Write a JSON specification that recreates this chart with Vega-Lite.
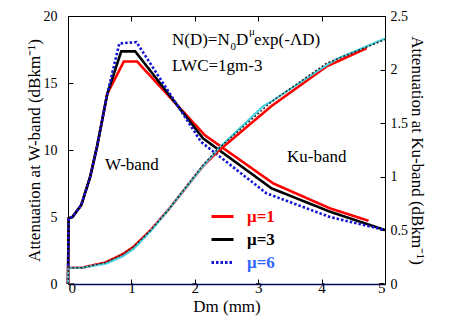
{
  "$schema": "https://vega.github.io/schema/vega-lite/v6.json",
  "width": 317,
  "height": 268,
  "autosize": {"type": "none"},
  "padding": {"left": 68, "top": 16, "right": 64, "bottom": 37},
  "config": {
    "font": "Liberation Serif",
    "view": {"stroke": "black", "strokeWidth": 1},
    "axis": {
      "grid": false,
      "domainColor": "black",
      "tickColor": "black",
      "tickSize": -5,
      "labelFont": "Liberation Serif",
      "labelFontSize": 14,
      "labelColor": "black",
      "titleFont": "Liberation Serif",
      "titleFontSize": 17,
      "titleFontWeight": "normal",
      "titleColor": "black"
    }
  },
  "datasets": {
    "w": [
      {"mu": "μ=1", "Dm": 0, "att": 0},
      {"mu": "μ=1", "Dm": 0.01, "att": 4.9},
      {"mu": "μ=1", "Dm": 0.07, "att": 5.0},
      {"mu": "μ=1", "Dm": 0.21, "att": 5.9},
      {"mu": "μ=1", "Dm": 0.35, "att": 8.0},
      {"mu": "μ=1", "Dm": 0.46, "att": 10.3},
      {"mu": "μ=1", "Dm": 0.62, "att": 14.2},
      {"mu": "μ=1", "Dm": 0.88, "att": 16.6},
      {"mu": "μ=1", "Dm": 1.09, "att": 16.6},
      {"mu": "μ=1", "Dm": 2.16, "att": 11.1},
      {"mu": "μ=1", "Dm": 3.24, "att": 7.5},
      {"mu": "μ=1", "Dm": 4.13, "att": 5.65},
      {"mu": "μ=1", "Dm": 4.74, "att": 4.72},
      {"mu": "μ=3", "Dm": 0, "att": 0},
      {"mu": "μ=3", "Dm": 0.01, "att": 4.9},
      {"mu": "μ=3", "Dm": 0.07, "att": 5.0},
      {"mu": "μ=3", "Dm": 0.21, "att": 5.9},
      {"mu": "μ=3", "Dm": 0.35, "att": 8.0},
      {"mu": "μ=3", "Dm": 0.46, "att": 10.3},
      {"mu": "μ=3", "Dm": 0.62, "att": 14.2},
      {"mu": "μ=3", "Dm": 0.84, "att": 17.36},
      {"mu": "μ=3", "Dm": 1.06, "att": 17.36},
      {"mu": "μ=3", "Dm": 2.13, "att": 10.87},
      {"mu": "μ=3", "Dm": 3.21, "att": 7.14},
      {"mu": "μ=3", "Dm": 4.13, "att": 5.4},
      {"mu": "μ=3", "Dm": 5.0, "att": 4.03},
      {"mu": "μ=6", "Dm": 0, "att": 0},
      {"mu": "μ=6", "Dm": 0.01, "att": 4.9},
      {"mu": "μ=6", "Dm": 0.07, "att": 5.0},
      {"mu": "μ=6", "Dm": 0.21, "att": 5.9},
      {"mu": "μ=6", "Dm": 0.35, "att": 8.0},
      {"mu": "μ=6", "Dm": 0.46, "att": 10.3},
      {"mu": "μ=6", "Dm": 0.62, "att": 14.2},
      {"mu": "μ=6", "Dm": 0.81, "att": 17.95},
      {"mu": "μ=6", "Dm": 1.08, "att": 18.05},
      {"mu": "μ=6", "Dm": 2.1, "att": 10.6},
      {"mu": "μ=6", "Dm": 3.13, "att": 6.77},
      {"mu": "μ=6", "Dm": 4.13, "att": 5.0},
      {"mu": "μ=6", "Dm": 5.0, "att": 4.03}
    ],
    "ku": [
      {"mu": "μ=1", "Dm": 0, "att": 0},
      {"mu": "μ=1", "Dm": 0.01, "att": 0.152},
      {"mu": "μ=1", "Dm": 0.22, "att": 0.152},
      {"mu": "μ=1", "Dm": 0.59, "att": 0.2},
      {"mu": "μ=1", "Dm": 0.87, "att": 0.28},
      {"mu": "μ=1", "Dm": 1.04, "att": 0.35},
      {"mu": "μ=1", "Dm": 1.3, "att": 0.5},
      {"mu": "μ=1", "Dm": 1.58, "att": 0.69},
      {"mu": "μ=1", "Dm": 2.13, "att": 1.1},
      {"mu": "μ=1", "Dm": 2.35, "att": 1.23},
      {"mu": "μ=1", "Dm": 3.21, "att": 1.66},
      {"mu": "μ=1", "Dm": 4.08, "att": 2.03},
      {"mu": "μ=1", "Dm": 4.71, "att": 2.2},
      {"mu": "μ=6", "Dm": 0, "att": 0},
      {"mu": "μ=6", "Dm": 0.01, "att": 0.152},
      {"mu": "μ=6", "Dm": 0.22, "att": 0.152},
      {"mu": "μ=6", "Dm": 0.6, "att": 0.19},
      {"mu": "μ=6", "Dm": 0.87, "att": 0.26},
      {"mu": "μ=6", "Dm": 1.04, "att": 0.33},
      {"mu": "μ=6", "Dm": 1.3, "att": 0.49},
      {"mu": "μ=6", "Dm": 1.58, "att": 0.69},
      {"mu": "μ=6", "Dm": 2.13, "att": 1.1},
      {"mu": "μ=6", "Dm": 2.4, "att": 1.28},
      {"mu": "μ=6", "Dm": 3.08, "att": 1.66},
      {"mu": "μ=6", "Dm": 3.2, "att": 1.7},
      {"mu": "μ=6", "Dm": 3.97, "att": 2.0},
      {"mu": "μ=6", "Dm": 4.24, "att": 2.1},
      {"mu": "μ=6", "Dm": 5.0, "att": 2.29},
      {"mu": "μ=3", "Dm": 0, "att": 0},
      {"mu": "μ=3", "Dm": 0.01, "att": 0.152},
      {"mu": "μ=3", "Dm": 0.22, "att": 0.152},
      {"mu": "μ=3", "Dm": 0.59, "att": 0.2},
      {"mu": "μ=3", "Dm": 0.87, "att": 0.28},
      {"mu": "μ=3", "Dm": 1.04, "att": 0.35},
      {"mu": "μ=3", "Dm": 1.3, "att": 0.5},
      {"mu": "μ=3", "Dm": 1.58, "att": 0.69},
      {"mu": "μ=3", "Dm": 2.13, "att": 1.11},
      {"mu": "μ=3", "Dm": 2.35, "att": 1.25},
      {"mu": "μ=3", "Dm": 3.21, "att": 1.7},
      {"mu": "μ=3", "Dm": 4.08, "att": 2.06},
      {"mu": "μ=3", "Dm": 5.0, "att": 2.28}
    ],
    "notes": [
      {"label": "N(D)=N", "Dm": 1.64, "att": 17.87},
      {"label": "D", "Dm": 2.65, "att": 17.87},
      {"label": "exp(-ΛD)", "Dm": 2.934, "att": 17.87},
      {"label": "LWC=1gm-3", "Dm": 1.64, "att": 15.86},
      {"label": "W-band", "Dm": 0.584, "att": 8.51},
      {"label": "Ku-band", "Dm": 3.454, "att": 9.1}
    ],
    "scripts": [
      {"label": "0", "Dm": 2.563, "att": 17.46},
      {"label": "μ", "Dm": 2.855, "att": 18.58}
    ]
  },
  "resolve": {
    "scale": {"y": "independent", "color": "independent", "strokeDash": "independent", "strokeWidth": "independent"},
    "axis": {"x": "independent"}
  },
  "layer": [
    {
      "data": {"name": "w"},
      "mark": {"type": "line", "strokeWidth": 2.6},
      "encoding": {
        "x": {
          "field": "Dm", "type": "quantitative",
          "scale": {"domain": [0, 5], "nice": false},
          "axis": {
            "orient": "bottom", "values": [0, 1, 2, 3, 4, 5], "title": "Dm (mm)",
            "domainColor": "#0a0a5a", "domainWidth": 1.6,
            "labelFont": "Liberation Serif", "labelFontSize": 15, "labelPadding": 1,
            "titleFont": "Liberation Serif", "titleFontSize": 17, "titleFontWeight": "normal", "titlePadding": 3
          }
        },
        "y": {
          "field": "att", "type": "quantitative",
          "scale": {"domain": [0, 20], "nice": false},
          "axis": {
            "orient": "left", "values": [0, 5, 10, 15, 20], "title": "Attenuation at W-band (dBkm⁻¹)",
            "labelFont": "Liberation Serif", "labelFontSize": 14, "labelPadding": 16,
            "titleFont": "Liberation Serif", "titleFontSize": 17, "titleFontWeight": "normal", "titlePadding": 0
          }
        },
        "color": {
          "field": "mu", "type": "nominal",
          "scale": {"domain": ["μ=1", "μ=3", "μ=6"], "range": ["#ff0000", "#000000", "#1414d2"]},
          "legend": {
            "orient": "none", "legendX": 142, "legendY": 188,
            "title": null, "padding": 0,
            "symbolType": "stroke", "symbolSize": 484, "symbolStrokeWidth": 3,
            "labelFont": "Liberation Serif", "labelFontSize": 17, "labelFontWeight": "bold",
            "labelOffset": 12, "rowPadding": 2,
            "encode": {
              "symbols": {"update": {
                "stroke": {"signal": "datum.value === 'μ=1' ? '#ff0000' : datum.value === 'μ=3' ? '#000000' : '#3388ff'"},
                "strokeDash": {"signal": "datum.value === 'μ=6' ? [4, 2.5] : [1, 0]"}
              }},
              "labels": {"update": {
                "fill": {"signal": "datum.value === 'μ=1' ? '#ff0000' : datum.value === 'μ=3' ? '#000000' : '#3366ff'"}
              }}
            }
          }
        },
        "strokeDash": {
          "field": "mu", "type": "nominal",
          "scale": {"domain": ["μ=1", "μ=3", "μ=6"], "range": [[1, 0], [1, 0], [2.5, 2]]},
          "legend": null
        }
      }
    },
    {
      "data": {"name": "ku"},
      "mark": {"type": "line"},
      "encoding": {
        "x": {
          "field": "Dm", "type": "quantitative",
          "axis": {"orient": "top", "values": [0, 1, 2, 3, 4, 5], "labels": false, "title": null}
        },
        "y": {
          "field": "att", "type": "quantitative",
          "scale": {"domain": [0, 2.5], "nice": false},
          "axis": {
            "orient": "right", "values": [0, 0.5, 1, 1.5, 2, 2.5], "format": "~g", "title": "Attenuation at Ku-band (dBkm⁻¹)",
            "labelFont": "Liberation Serif", "labelFontSize": 14, "labelPadding": 10,
            "titleFont": "Liberation Serif", "titleFontSize": 17, "titleFontWeight": "normal", "titlePadding": 0
          }
        },
        "color": {
          "field": "mu", "type": "nominal",
          "scale": {"domain": ["μ=1", "μ=6", "μ=3"], "range": ["#ff0000", "#40d0e0", "#2a2a2a"]},
          "legend": null
        },
        "strokeDash": {
          "field": "mu", "type": "nominal",
          "scale": {"domain": ["μ=1", "μ=6", "μ=3"], "range": [[1, 0], [1, 0], [2, 2]]},
          "legend": null
        },
        "strokeWidth": {
          "field": "mu", "type": "nominal",
          "scale": {"domain": ["μ=1", "μ=6", "μ=3"], "range": [2.6, 1.5, 2.6]},
          "legend": null
        }
      }
    },
    {
      "data": {"name": "notes"},
      "mark": {"type": "text", "align": "left", "baseline": "alphabetic", "fontSize": 17, "font": "Liberation Serif", "color": "black"},
      "encoding": {
        "x": {"field": "Dm", "type": "quantitative", "axis": null},
        "y": {"field": "att", "type": "quantitative", "scale": {"domain": [0, 20], "nice": false}, "axis": null},
        "text": {"field": "label"}
      }
    },
    {
      "data": {"name": "scripts"},
      "mark": {"type": "text", "align": "left", "baseline": "alphabetic", "fontSize": 11, "font": "Liberation Serif", "color": "black"},
      "encoding": {
        "x": {"field": "Dm", "type": "quantitative", "axis": null},
        "y": {"field": "att", "type": "quantitative", "scale": {"domain": [0, 20], "nice": false}, "axis": null},
        "text": {"field": "label"}
      }
    }
  ]
}
